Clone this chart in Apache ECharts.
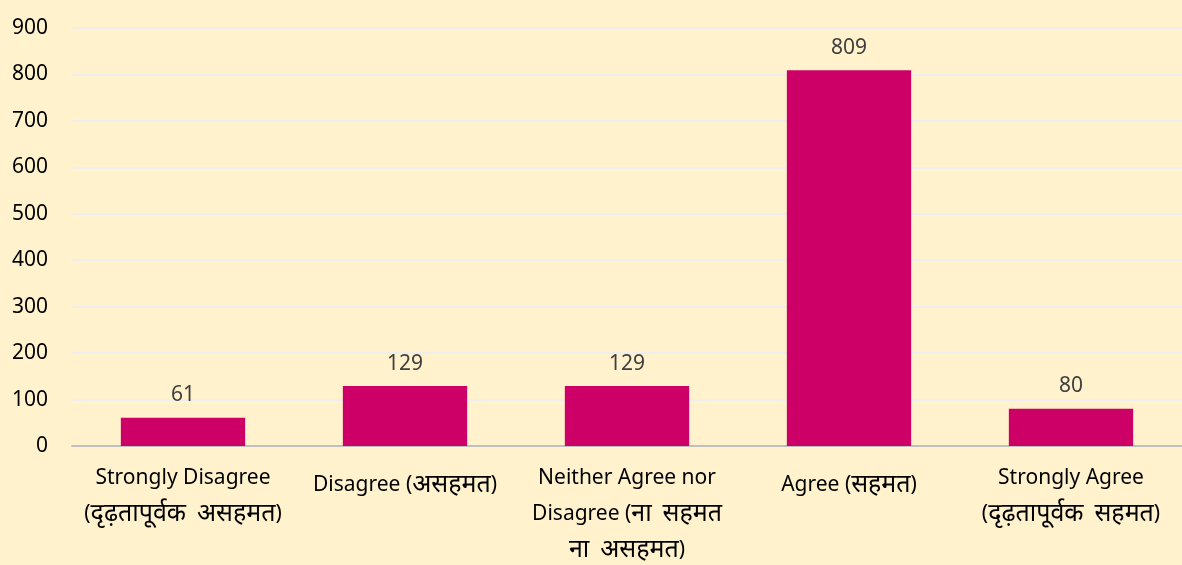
<!DOCTYPE html>
<html>
<head>
<meta charset="utf-8">
<script src="https://cdn.jsdelivr.net/npm/echarts@6/dist/echarts.min.js"></script>
<style>
  html, body { margin: 0; padding: 0; background: #FFF2CC; }
  #chart { width: 1182px; height: 565px; }
</style>
</head>
<body>
<div id="chart"></div>
<script>
const categories = [
  'Strongly Disagree\n(दृढ़तापूर्वक  असहमत)',
  'Disagree (असहमत)',
  'Neither Agree nor\nDisagree (ना  सहमत\nना  असहमत)',
  'Agree (सहमत)',
  'Strongly Agree\n(दृढ़तापूर्वक  सहमत)'
]
const counts = [61, 129, 129, 809, 80]

const font = '"Noto Sans", "Open Sans", sans-serif'

// single-line labels sit a bit lower in the original
const axisData = categories.map(c => c.includes('\n')
  ? c
  : { value: c, textStyle: { padding: [7, 0, 0, 0] } })

// fallback Devanagari font renders small, bump it up a bit
function wrapHindi(text) {
  return text.split('\n')
    .map(line => line.replace(/[\u0900-\u097F]+/g, m => '{d|' + m + '}'))
    .join('\n')
}

const chart = echarts.init(document.getElementById('chart'))
chart.setOption({
  backgroundColor: '#FFF2CC',
  animation: false,
  grid: { left: 72, right: 0, top: 28, bottom: 119, outerBoundsMode: 'none' },
  xAxis: {
    type: 'category',
    data: axisData,
    axisLine: { lineStyle: { color: '#BFBFBF', width: 2 } },
    axisTick: { show: false },
    axisLabel: {
      interval: 0,
      margin: 14,
      color: '#000',
      fontSize: 21,
      lineHeight: 36,
      fontFamily: font,
      formatter: wrapHindi,
      rich: {
        d: { fontSize: 25, lineHeight: 36, color: '#000', fontFamily: font }
      }
    }
  },
  yAxis: {
    type: 'value',
    min: 0,
    max: 900,
    interval: 100,
    axisLine: { show: false },
    axisTick: { show: false },
    splitLine: { lineStyle: { color: '#EEEEEE', width: 2 } },
    axisLabel: { margin: 24, color: '#000', fontSize: 21, fontFamily: font }
  },
  series: [{
    type: 'bar',
    data: counts,
    barCategoryGap: '44%',
    itemStyle: { color: '#CC0066' },
    label: {
      show: true,
      position: 'top',
      distance: 12,
      color: '#404040',
      fontSize: 21,
      fontFamily: font
    }
  }]
})
</script>
</body>
</html>
